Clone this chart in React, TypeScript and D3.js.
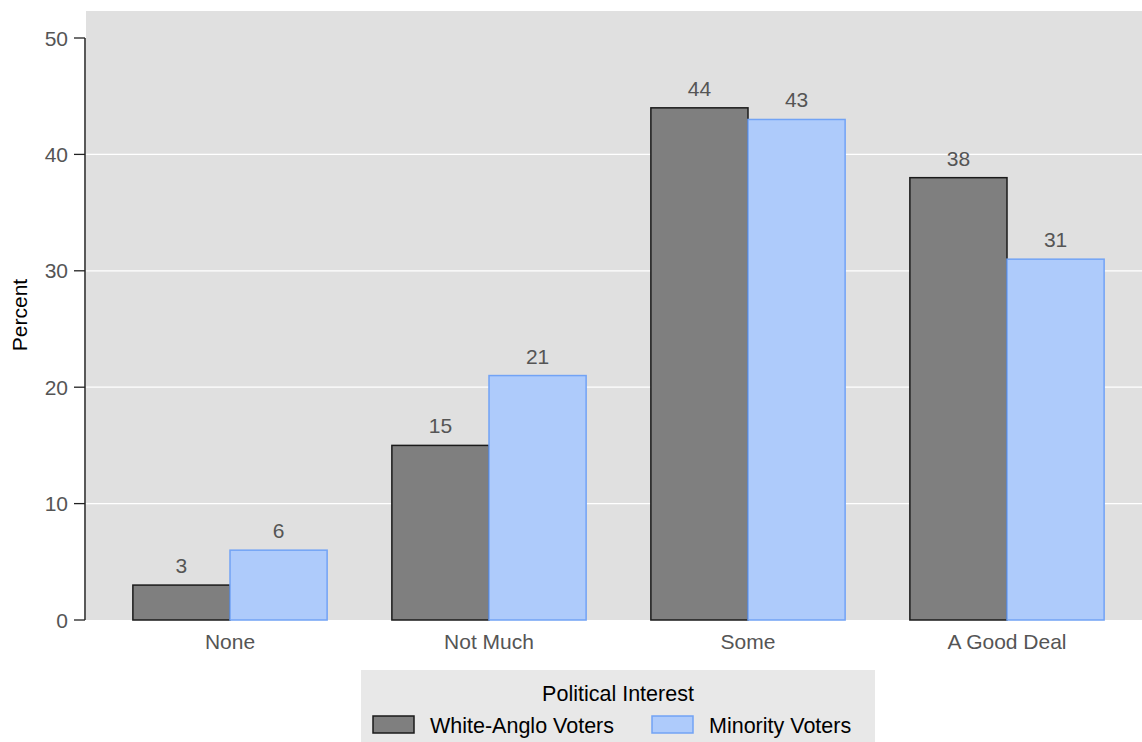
import React from "react";
import * as d3 from "d3";

const categories = ["None", "Not Much", "Some", "A Good Deal"];
const seriesNames = ["White-Anglo Voters", "Minority Voters"];
const whiteAnglo = [3, 15, 44, 38];
const minority = [6, 21, 43, 31];
const yTicks = [0, 10, 20, 30, 40, 50];

const W = 1142;
const H = 742;
const FONT = "'Liberation Sans', Arial, Helvetica, sans-serif";
const fills = ["#7f7f7f", "#aecbfb"];
const strokes = ["#1a1a1a", "#72a3f5"];

export default function App() {
  const y = d3.scaleLinear().domain([0, 50]).range([620, 38]);
  const x = d3
    .scaleBand<string>()
    .domain(categories)
    .range([100.5, 1136.5])
    .paddingInner(0.25)
    .paddingOuter(0.125);
  const xs = d3.scaleBand<string>().domain(seriesNames).range([0, x.bandwidth()]);
  const series = [whiteAnglo, minority];

  return (
    <svg width={W} height={H} style={{ position: "absolute", left: 0, top: 0 }} fontFamily={FONT}>
      <rect x={86} y={11} width={W - 86} height={609} fill="#e0e0e0" />
      {yTicks.filter((t) => t > 0 && t < 50).map((t) => (
        <line key={t} x1={86} x2={W} y1={y(t)} y2={y(t)} stroke="#ffffff" strokeWidth={1.2} />
      ))}
      {/* y axis */}
      <line x1={85} x2={85} y1={y(50)} y2={y(0)} stroke="#222" strokeWidth={1.5} />
      {yTicks.map((t) => (
        <g key={t}>
          <line x1={74} x2={85} y1={y(t)} y2={y(t)} stroke="#222" strokeWidth={1.3} />
          <text x={68} y={y(t)} dy="0.36em" textAnchor="end" fontSize={21} fill="#555">
            {t}
          </text>
        </g>
      ))}
      <text
        transform={`translate(27,315) rotate(-90)`}
        textAnchor="middle"
        fontSize={21}
        fill="#000"
      >
        Percent
      </text>
      {/* bars */}
      {categories.map((c, i) => (
        <g key={c}>
          {series.map((s, j) => {
            const bx = (x(c) as number) + (xs(seriesNames[j]) as number);
            const bw = xs.bandwidth();
            return (
              <g key={j}>
                <rect
                  x={bx}
                  y={y(s[i])}
                  width={bw}
                  height={y(0) - y(s[i])}
                  fill={fills[j]}
                  stroke={strokes[j]}
                  strokeWidth={1.5}
                />
                <text x={bx + bw / 2} y={y(s[i]) - 12} textAnchor="middle" fontSize={21} fill="#555">
                  {s[i]}
                </text>
              </g>
            );
          })}
          <text
            x={(x(c) as number) + x.bandwidth() / 2}
            y={649}
            textAnchor="middle"
            fontSize={21}
            fill="#555"
          >
            {c}
          </text>
        </g>
      ))}
      {/* legend */}
      <rect x={361} y={670} width={514} height={72} fill="#e8e8e8" />
      <text x={618} y={701} textAnchor="middle" fontSize={21.5} fill="#000">
        Political Interest
      </text>
      <rect x={373} y={716} width={41} height={17} fill={fills[0]} stroke={strokes[0]} strokeWidth={1.5} />
      <text x={430} y={733} fontSize={21.5} fill="#000">
        {seriesNames[0]}
      </text>
      <rect x={652} y={716} width={41} height={17} fill={fills[1]} stroke={strokes[1]} strokeWidth={1.5} />
      <text x={709} y={733} fontSize={21.5} fill="#000">
        {seriesNames[1]}
      </text>
    </svg>
  );
}
